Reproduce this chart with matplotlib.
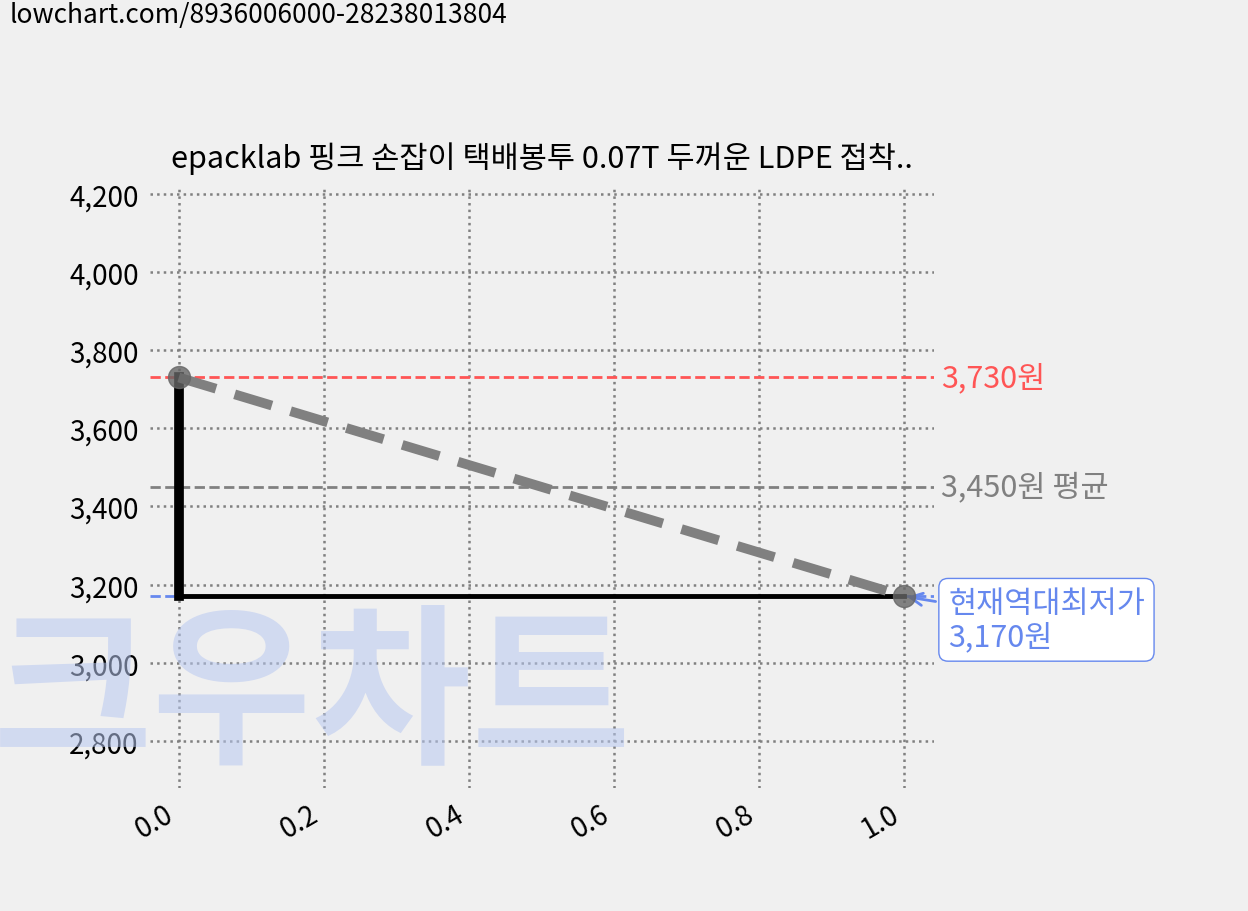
import matplotlib.pyplot as plt

plt.rcParams['font.family'] = ['Noto Sans CJK KR', 'DejaVu Sans']

x_vals = [0.0, 1.0]
prices = [3730, 3170]
max_price = 3730
avg_price = 3450
min_price = 3170
title = "epacklab 핑크 손잡이 택배봉투 0.07T 두꺼운 LDPE 접착.."

fig = plt.figure(figsize=(12.48, 9.12), dpi=100, facecolor='#f0f0f0')
ax = fig.add_axes([0.12, 0.135, 0.628, 0.66])
ax.set_facecolor('#f0f0f0')

fig.text(0.008, 0.998, "lowchart.com/8936006000-28238013804", fontsize=19, va='top')
fig.text(0.25, 0.235, "크우차트", fontsize=125, color='#b8c8f0', alpha=0.55,
         ha='center', va='center', weight='bold', zorder=0)

ax.axhline(max_price, color='#ff5555', ls='--', lw=2)
ax.axhline(avg_price, color='#808080', ls='--', lw=2)
ax.axhline(min_price, color='#6688ee', ls='--', lw=2)

# step from max down to current low
ax.plot([x_vals[0], x_vals[0]], [prices[0], prices[1]], color='black', lw=7, zorder=3)
ax.plot([x_vals[0], x_vals[1]], [prices[1], prices[1]], color='black', lw=3.5, zorder=3)
ax.plot(x_vals, prices, color='#808080', lw=7, ls=(0, (4, 2)), zorder=4)
ax.scatter(x_vals, prices, s=250, color='#666666', alpha=0.8, zorder=5)

ax.text(1.05, max_price, f"{max_price:,}원", color='#ff5555', fontsize=22, va='center')
ax.text(1.05, avg_price, f"{avg_price:,}원 평균", color='#808080', fontsize=22, va='center')
ax.annotate(f"현재역대최저가\n{min_price:,}원", xy=(1.0, min_price), xytext=(1.06, 3110),
            color='#6688ee', fontsize=22, va='center', linespacing=1.1,
            bbox=dict(boxstyle='round,pad=0.3', fc='white', ec='#6688ee'),
            arrowprops=dict(arrowstyle='->', color='#6688ee', lw=2))

ax.set_xlim(-0.04, 1.04)
ax.set_ylim(2680, 4220)
ax.set_xticks([0, 0.2, 0.4, 0.6, 0.8, 1.0])
ax.set_yticks(range(2800, 4201, 200))
ax.yaxis.set_major_formatter(plt.FuncFormatter(lambda v, p: f"{int(v):,}"))
ax.tick_params(labelsize=20, length=0, pad=8)
plt.setp(ax.get_xticklabels(), rotation=30, ha='right')
ax.grid(True, color='#808080', ls=':', lw=1.8)
for s in ax.spines.values():
    s.set_visible(False)
ax.set_title(title, fontsize=22, pad=14)

fig.savefig("out.png", dpi=100, facecolor=fig.get_facecolor())
